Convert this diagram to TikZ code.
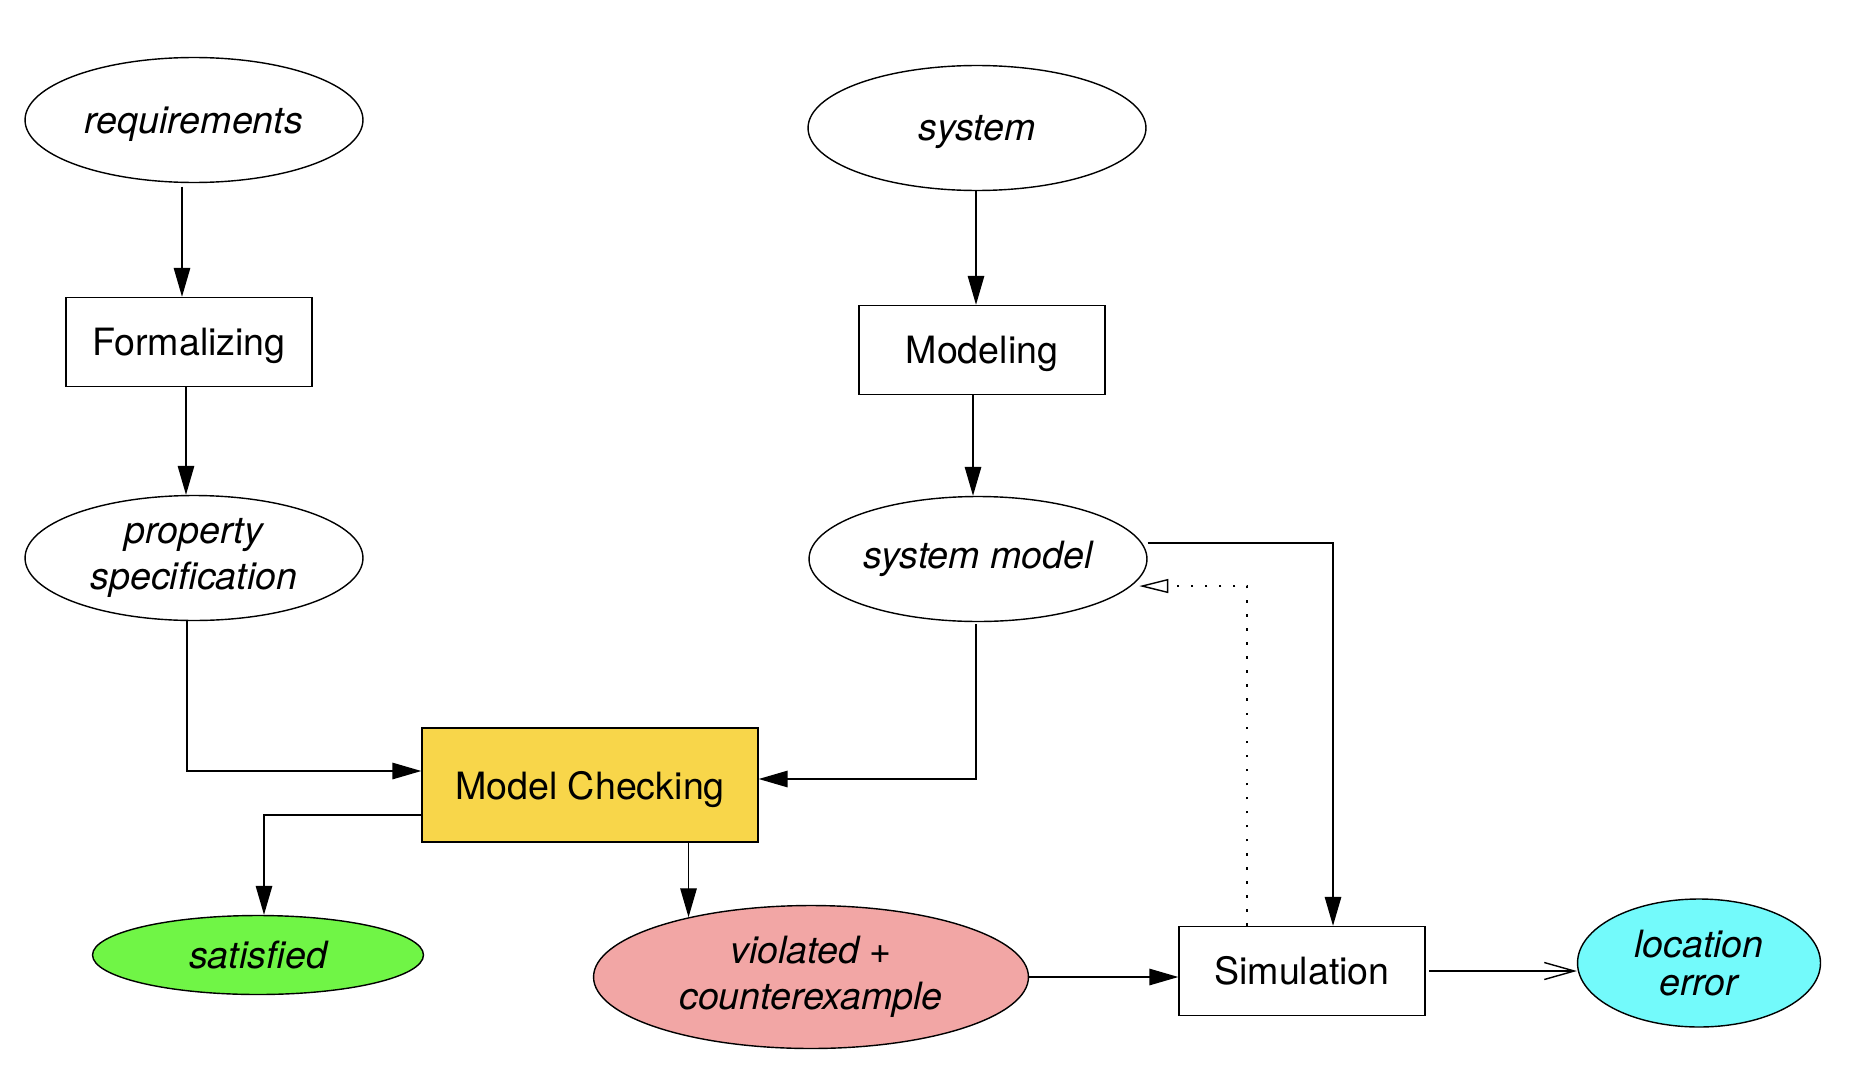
\documentclass[tikz,border=0pt]{standalone}
\usepackage{fontspec}
\setmainfont{TeX Gyre Heros}
\usetikzlibrary{positioning, shapes, shapes.geometric, arrows.meta}

\definecolor{mcyellow}{RGB}{248,214,74}
\definecolor{satgreen}{RGB}{112,245,70}
\definecolor{violred}{RGB}{242,166,165}
\definecolor{loccyan}{RGB}{115,250,251}

\begin{document}
\begin{tikzpicture}[x=0.02cm, y=-0.02cm, line width=0.8pt,
			font=\fontsize{21.4}{26}\selectfont,
			art/.style={draw, ellipse, inner sep=0pt, align=center,
						minimum width=6.76cm, minimum height=2.5cm,
						font=\fontsize{21.4}{26}\selectfont\itshape},
			proc/.style={draw, rectangle, minimum width=4.92cm, minimum height=1.78cm},
			arr/.style={-{Triangle[length=0.58cm, width=0.33cm]}},
			openarr/.style={-{Straight Barb[length=0.6cm, width=0.34cm]}},
			dotarr/.style={-{Triangle[open, length=0.58cm, width=0.28cm]}, dash pattern=on 1.4pt off 6.6pt}]

			\useasboundingbox (0,0) rectangle (1868,1088);

			% Inputs and formalization
			\node[art, text depth=0pt] (req) at (194,120) {requirements};
			\node[proc, text depth=0pt] (form) at (189,342) {Formalizing};
			\node[art] (prop) at (194,558) {property\\specification};

			\node[art, text depth=0pt] (sys) at (977,128) {system};
			\node[proc, text depth=0pt] (mod) at (982,350) {Modeling};
			\node[art] (sysm) at (978,559) {system model};

			% Checking and results
			\node[proc, text depth=0pt, fill=mcyellow, minimum width=6.72cm, minimum height=2.28cm] (mc) at (590,785) {Model Checking};
			\node[art, fill=satgreen, minimum width=6.62cm, minimum height=1.58cm] (sat) at (258,955) {satisfied};
			\node[art, fill=violred, minimum width=8.7cm, minimum height=2.86cm] (viol) at (811,977) {violated +\\counterexample};
			\node[proc] (sim) at (1302,971) {Simulation};
			\node[art, fill=loccyan, minimum width=4.86cm, minimum height=2.56cm] (loc) at (1699,963) {location\\[-4pt]error};

			% Arrows
			\draw[arr, shorten <=2pt] (req.south -| 182,0) -- (form.north -| 182,0);
			\draw[arr] (form.south -| 186,0) -- (prop.north -| 186,0);
			\draw[arr] (prop.south -| 187,0) |- (mc.west |- 0,771);
			\draw[arr] (sys.south -| 976,0) -- (mod.north -| 976,0);
			\draw[arr] (mod.south -| 973,0) -- (sysm.north -| 973,0);
			\draw[arr, shorten <=1pt] (sysm.south -| 976,0) |- (mc.east |- 0,779);
			\draw[arr] (mc.west |- 0,815) -| (sat.north -| 264,0);
			\draw[arr] (mc.south -| viol.154) -- (viol.154);
			\draw[arr] ([yshift=0.32cm]sysm.east) -| (sim.north -| 1333,0);
			\draw[dotarr, shorten >=4.5pt] (sim.north -| 1247,0) |- (sysm.-10);
			\draw[arr] (viol.east) -- (sim.west |- viol.east);
			\draw[openarr, shorten <=2pt] (sim.east) -- (loc.west |- sim.east);

		\end{tikzpicture}
\end{document}
